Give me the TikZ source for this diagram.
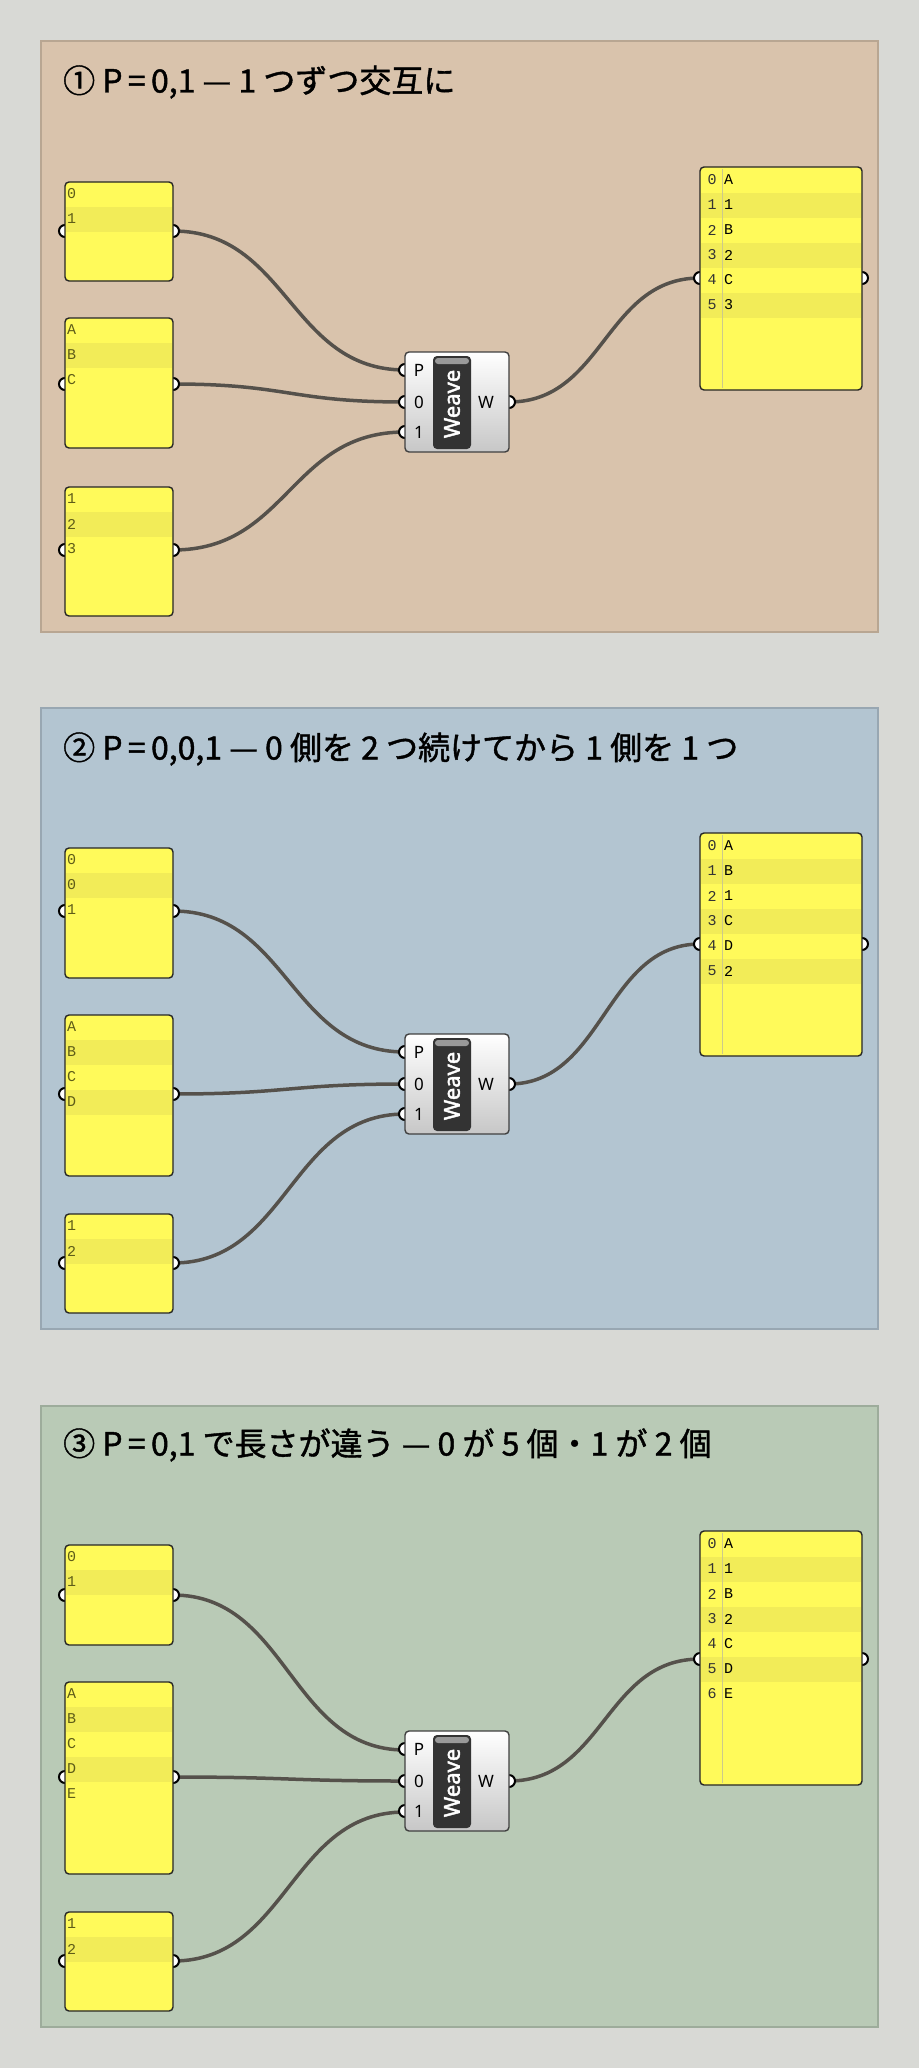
\documentclass[tikz,border=0pt]{standalone}
\usepackage{fontspec}
\setmainfont{Noto Sans CJK JP}
\setmonofont{Liberation Mono}
\newfontfamily\uifont{Noto Sans}
\newfontfamily\uiboldfont[FakeBold=2]{Noto Sans}
\newfontfamily\titlefont[FakeBold=1.3]{Noto Sans CJK JP}
\usetikzlibrary{arrows.meta}
\definecolor{pagebg}{HTML}{D8D9D5}
\definecolor{panelA}{HTML}{D9C3AC}
\definecolor{panelB}{HTML}{B3C5D1}
\definecolor{panelC}{HTML}{B9CAB6}
\definecolor{wirecol}{HTML}{55514B}
\definecolor{listfill}{HTML}{FFFA5A}
\definecolor{rowshade}{HTML}{F2EC58}
\definecolor{itemcol}{HTML}{5E5C18}

% input list with grips on both sides
\newcommand{\inlist}[7]{%
  \coordinate (#1-l) at (#2,#6);
  \coordinate (#1-r) at (#4,#6);
  \draw[grip] (#1-l) circle[radius=6pt];
  \draw[grip] (#1-r) circle[radius=6pt];
  \fill[listfill,rounded corners=4pt] (#2,#3) rectangle (#4,#5);
  \foreach \t [count=\i from 0] in {#7} {
    \pgfmathsetmacro\ya{#3+25*\i}
    \ifodd\i \fill[rowshade] (#2+1,\ya) rectangle (#4-1,\ya+25); \fi
    \node[item,anchor=west] at (#2+2,\ya+12) {\t};
  }
  \draw[listbox] (#2,#3) rectangle (#4,#5);
}
% output list with index column
\newcommand{\outlist}[7]{%
  \coordinate (#1-l) at (#2,#6);
  \coordinate (#1-r) at (#4,#6);
  \draw[grip] (#1-l) circle[radius=6pt];
  \draw[grip] (#1-r) circle[radius=6pt];
  \fill[listfill,rounded corners=4pt] (#2,#3) rectangle (#4,#5);
  \foreach \t [count=\i from 0] in {#7} {
    \pgfmathsetmacro\ya{#3+1+25*\i}
    \ifodd\i \fill[rowshade] (#2+1,\ya) rectangle (#4-1,\ya+25); \fi
    \node[item,text=black!80] at (#2+12,\ya+12) {\i};
    \node[item,text=black,anchor=west] at (#2+24,\ya+12) {\t};
  }
  \draw[rowshade!70!black!60,line width=0.6pt] (#2+22,#3+2) -- (#2+22,#5-2);
  \draw[listbox] (#2,#3) rectangle (#4,#5);
}
% weave component, top left at (#2,#3)
\newcommand{\weave}[3]{%
  \coordinate (#1-P) at (#2,#3+18);
  \coordinate (#1-0) at (#2,#3+50);
  \coordinate (#1-1) at (#2,#3+80);
  \coordinate (#1-W) at (#2+104,#3+50);
  \foreach \p in {P,0,1,W} \draw[grip] (#1-\p) circle[radius=6pt];
  \shade[top color=white,bottom color=black!22,rounded corners=4pt] (#2,#3) rectangle (#2+104,#3+100);
  \draw[black!75,line width=1.4pt,rounded corners=4pt] (#2,#3) rectangle (#2+104,#3+100);
  \fill[black!80,rounded corners=4pt] (#2+28,#3+4) rectangle (#2+66,#3+97);
  \fill[white!60!black,rounded corners=3pt] (#2+30,#3+6) rectangle (#2+64,#3+12);
  \node[ui,text=white,font=\uiboldfont\fontsize{22}{22}\selectfont,rotate=90] at (#2+47,#3+52) {Weave};
  \node[ui] at (#2+14,#3+18) {P};
  \node[ui] at (#2+14,#3+50) {0};
  \node[ui] at (#2+14,#3+80) {1};
  \node[ui] at (#2+81,#3+50) {W};
}

\begin{document}
\begin{tikzpicture}[x=1pt,y=-1pt,
  wire/.style={draw=wirecol,line width=3.5pt},
  grip/.style={fill=white,draw=black,line width=2pt},
  listbox/.style={draw=black!85,line width=1.4pt,rounded corners=4pt},
  item/.style={inner sep=0pt,text=itemcol,font=\ttfamily\fontsize{15}{15}\selectfont},
  ui/.style={inner sep=0pt,font=\uifont\fontsize{17}{17}\selectfont},
  panel/.style={line width=1.5pt},
  title/.style={anchor=west,inner sep=0pt,font=\titlefont\fontsize{32}{32}\selectfont}]
\useasboundingbox (0,0) rectangle (919,2068);
\fill[pagebg] (0,0) rectangle (919,2068);

%panel 1
\draw[panel,fill=panelA,draw=panelA!85!black] (41,41) rectangle (878,632);
\node[title] (t1) at (63,82) {① P\,=\,0,1 — 1 つずつ交互に};
\coordinate (a1-r) at (173,231); \coordinate (a2-r) at (173,384);
\coordinate (a3-r) at (173,550);
\coordinate (wa-P) at (405,370); \coordinate (wa-0) at (405,402);
\coordinate (wa-1) at (405,432); \coordinate (wa-W) at (509,402);
\coordinate (oa-l) at (700,278);
\draw[wire] (a1-r) .. controls +(115,0) and +(-115,0) .. (wa-P);
\draw[wire] (a2-r) .. controls +(115,0) and +(-115,0) .. (wa-0);
\draw[wire] (a3-r) .. controls +(115,0) and +(-115,0) .. (wa-1);
\draw[wire] (wa-W) .. controls +(95,0) and +(-95,0) .. (oa-l);
\inlist{a1}{65}{182}{173}{281}{231}{0,1}
\inlist{a2}{65}{318}{173}{448}{384}{A,B,C}
\inlist{a3}{65}{487}{173}{616}{550}{1,2,3}
\weave{wa}{405}{352}
\outlist{oa}{700}{167}{862}{390}{278}{A,1,B,2,C,3}

%panel 2
\draw[panel,fill=panelB,draw=panelB!85!black] (41,708) rectangle (878,1329);
\node[title] (t2) at (63,749) {② P\,=\,0,0,1 — 0 側を 2 つ続けてから 1 側を 1 つ};
\coordinate (b1-r) at (173,911); \coordinate (b2-r) at (173,1094);
\coordinate (b3-r) at (173,1263);
\coordinate (wb-P) at (405,1052); \coordinate (wb-0) at (405,1084);
\coordinate (wb-1) at (405,1114); \coordinate (wb-W) at (509,1084);
\coordinate (ob-l) at (700,944);
\draw[wire] (b1-r) .. controls +(115,0) and +(-115,0) .. (wb-P);
\draw[wire] (b2-r) .. controls +(115,0) and +(-115,0) .. (wb-0);
\draw[wire] (b3-r) .. controls +(115,0) and +(-115,0) .. (wb-1);
\draw[wire] (wb-W) .. controls +(95,0) and +(-95,0) .. (ob-l);
\inlist{b1}{65}{848}{173}{978}{911}{0,0,1}
\inlist{b2}{65}{1015}{173}{1176}{1094}{A,B,C,D}
\inlist{b3}{65}{1214}{173}{1313}{1263}{1,2}
\weave{wb}{405}{1034}
\outlist{ob}{700}{833}{862}{1056}{944}{A,B,1,C,D,2}

%panel 3
\draw[panel,fill=panelC,draw=panelC!85!black] (41,1406) rectangle (878,2027);
\node[title] (t3) at (63,1445) {③ P\,=\,0,1 で長さが違う — 0 が 5 個・1 が 2 個};
\coordinate (c1-r) at (173,1595); \coordinate (c2-r) at (173,1777);
\coordinate (c3-r) at (173,1961);
\coordinate (wc-P) at (405,1750); \coordinate (wc-0) at (405,1781);
\coordinate (wc-1) at (405,1812); \coordinate (wc-W) at (509,1781);
\coordinate (oc-l) at (700,1659);
\draw[wire] (c1-r) .. controls +(115,0) and +(-115,0) .. (wc-P);
\draw[wire] (c2-r) .. controls +(115,0) and +(-115,0) .. (wc-0);
\draw[wire] (c3-r) .. controls +(115,0) and +(-115,0) .. (wc-1);
\draw[wire] (wc-W) .. controls +(95,0) and +(-95,0) .. (oc-l);
\inlist{c1}{65}{1545}{173}{1645}{1595}{0,1}
\inlist{c2}{65}{1682}{173}{1874}{1777}{A,B,C,D,E}
\inlist{c3}{65}{1912}{173}{2011}{1961}{1,2}
\weave{wc}{405}{1731}
\outlist{oc}{700}{1531}{862}{1785}{1659}{A,1,B,2,C,D,E}
\end{tikzpicture}
\end{document}
